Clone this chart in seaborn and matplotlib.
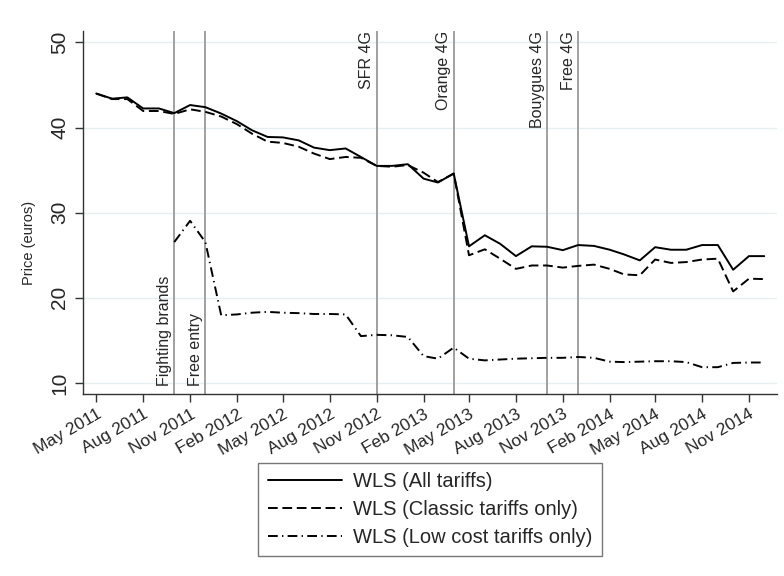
import numpy as np
import pandas as pd
import matplotlib
matplotlib.use("Agg")
import matplotlib.pyplot as plt
import matplotlib.dates as mdates
import matplotlib.transforms as mtransforms
import seaborn as sns

# ---- data (monthly, May 2011 - Dec 2014) ----
start_month = "2011-05-01"
all_tariffs = [44.0, 43.4, 43.55, 42.25, 42.25, 41.7, 42.65, 42.4, 41.65, 40.75,
               39.7, 38.9, 38.85, 38.5, 37.65, 37.35, 37.55, 36.55, 35.5, 35.5,
               35.7, 34.0, 33.55, 34.6, 26.05, 27.35, 26.35, 24.9, 26.05, 26.0,
               25.6, 26.2, 26.1, 25.65, 25.1, 24.4, 25.95, 25.65, 25.65, 26.2,
               26.2, 23.3, 24.9, 24.9]
classic_tariffs = [44.0, 43.35, 43.35, 41.95, 41.95, 41.6, 42.15, 41.85, 41.3, 40.4,
                   39.3, 38.35, 38.2, 37.75, 36.95, 36.3, 36.55, 36.45, 35.5, 35.4,
                   35.6, 34.7, 33.6, 34.6, 25.0, 25.7, 24.6, 23.4, 23.8, 23.8,
                   23.55, 23.75, 23.9, 23.4, 22.75, 22.65, 24.5, 24.1, 24.2, 24.5,
                   24.6, 20.75, 22.25, 22.2]
low_cost_start = "2011-10-01"
low_cost_tariffs = [26.55, 29.05, 26.55, 17.95, 18.05, 18.25, 18.35, 18.25, 18.2, 18.1,
                    18.1, 18.05, 15.5, 15.65, 15.6, 15.4, 13.15, 12.85, 14.15, 12.85,
                    12.65, 12.75, 12.85, 12.9, 12.95, 12.95, 13.05, 12.95, 12.5, 12.45,
                    12.5, 12.55, 12.55, 12.45, 11.85, 11.85, 12.35, 12.4, 12.4]
series_labels = ["WLS (All tariffs)", "WLS (Classic tariffs only)",
                 "WLS (Low cost tariffs only)"]

event_dates = ["2011-10-01", "2011-12-01", "2012-11-01", "2013-04-01",
               "2013-10-01", "2013-12-01"]
event_labels = ["Fighting brands", "Free entry", "SFR 4G", "Orange 4G",
                "Bouygues 4G", "Free 4G"]
event_at_top = [False, False, True, True, True, True]

y_ticks = [10, 20, 30, 40, 50]

# ---- plotting ----
sns.set_style("white")
plt.rcParams["font.family"] = ["Liberation Sans", "DejaVu Sans"]

dates_all = pd.date_range(start_month, periods=len(all_tariffs), freq="MS")
dates_low = pd.date_range(low_cost_start, periods=len(low_cost_tariffs), freq="MS")

fig = plt.figure(figsize=(7.84, 5.76), dpi=100)
ax = fig.add_axes([83 / 784, 182 / 576, (777 - 83) / 784, (394 - 31) / 576])

for yv in y_ticks:
    ax.axhline(yv, color="#e6eef0", lw=1.0, zorder=0)

lw = 1.4
sns.lineplot(x=dates_all, y=all_tariffs, ax=ax, color="black", lw=lw,
             label=series_labels[0])
sns.lineplot(x=dates_all, y=classic_tariffs, ax=ax, color="black", lw=lw,
             linestyle=(0, (5.0, 2.4)), label=series_labels[1])
sns.lineplot(x=dates_low, y=low_cost_tariffs, ax=ax, color="black", lw=lw,
             linestyle=(0, (5.0, 2.2, 0.7, 2.2)), label=series_labels[2])

trans = mtransforms.blended_transform_factory(ax.transData, ax.transAxes)
trans_off = mtransforms.offset_copy(trans, fig=fig, x=-2.5, y=0, units="dots")
for d, lab, top in zip(event_dates, event_labels, event_at_top):
    dt = pd.Timestamp(d)
    ax.axvline(dt, color="#a0a0a0", lw=1.4, zorder=1)
    if top:
        ax.text(dt, 1.0, lab, transform=trans_off, rotation=90, ha="right",
                va="top", fontsize=11.5)
    else:
        ax.text(dt, 0.022, lab, transform=trans_off, rotation=90, ha="right",
                va="bottom", fontsize=11.5)

ax.set_ylim(8.7, 51.35)
ax.set_xlim(pd.Timestamp("2011-04-05"), pd.Timestamp("2014-12-26"))
ax.set_yticks(y_ticks)
ax.set_yticklabels([str(v) for v in y_ticks], rotation=90, va="center",
                   fontsize=15)
ax.xaxis.set_major_locator(mdates.MonthLocator(bymonth=[2, 5, 8, 11]))
ax.xaxis.set_major_formatter(mdates.DateFormatter("%b %Y"))
for lbl in ax.get_xticklabels():
    lbl.set_rotation(30)
    lbl.set_ha("right")
    lbl.set_va("top")
    lbl.set_rotation_mode("anchor")
    lbl.set_fontsize(12.5)

ax.tick_params(axis="both", direction="out", length=6, width=1.0,
               color="#333333", bottom=True, left=True)
ax.tick_params(axis="x", pad=3)
ax.tick_params(axis="y", pad=4)

ax.set_xlabel("")
ax.set_ylabel("Price (euros)", fontsize=10.5)
ax.yaxis.set_label_coords(-0.068, 0.415)

for side in ["top", "right"]:
    ax.spines[side].set_visible(False)
for side in ["left", "bottom"]:
    ax.spines[side].set_color("#333333")
    ax.spines[side].set_linewidth(1.0)

leg = ax.legend(loc="upper center", bbox_to_anchor=(0.5, -0.19), ncol=1,
                fontsize=14.5, frameon=True, fancybox=False,
                handlelength=3.7, handletextpad=0.55, borderpad=0.45,
                labelspacing=0.45, borderaxespad=0)
leg.get_frame().set_edgecolor("#555555")
leg.get_frame().set_linewidth(1.0)

fig.savefig("out.png", dpi=100, facecolor="white")
